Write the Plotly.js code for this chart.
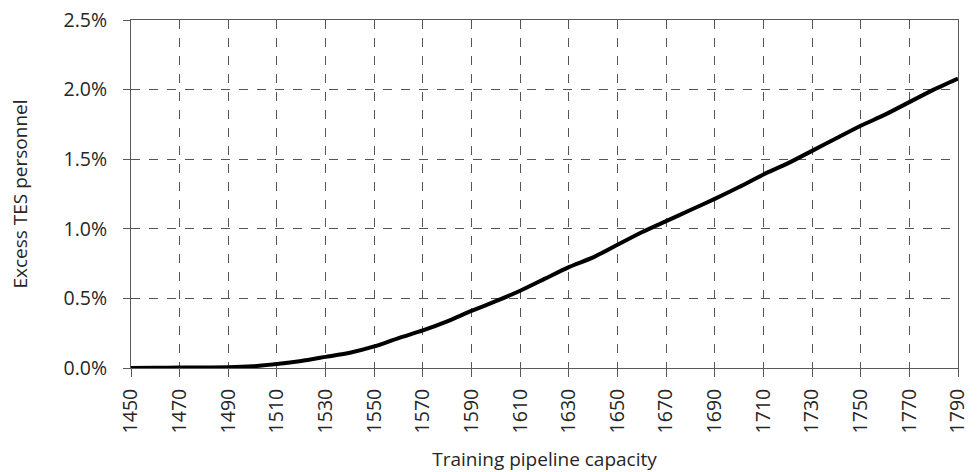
<!DOCTYPE html>
<html>
<head>
<meta charset="utf-8">
<script src="https://cdn.plot.ly/plotly-3.0.1.min.js"></script>
<style>html,body{margin:0;padding:0;background:#fff;}#chart{width:979px;height:472px;}</style>
</head>
<body>
<div id="chart"></div>
<script>
const capacity = [1450,1460,1470,1480,1490,1500,1510,1520,1530,1540,1550,1560,1570,1580,1590,1600,1610,1620,1630,1640,1650,1660,1670,1680,1690,1700,1710,1720,1730,1740,1750,1760,1770,1780,1790];
const excessPct = [0.000,0.002,0.003,0.004,0.005,0.012,0.028,0.050,0.080,0.110,0.155,0.215,0.270,0.335,0.410,0.480,0.555,0.640,0.725,0.795,0.885,0.975,1.055,1.135,1.215,1.300,1.390,1.470,1.560,1.650,1.740,1.820,1.910,2.000,2.080];
const xTicks = [1450,1470,1490,1510,1530,1550,1570,1590,1610,1630,1650,1670,1690,1710,1730,1750,1770,1790];
const yTicks = [0,0.005,0.010,0.015,0.020,0.025];

const excess = excessPct.map(v => v / 100);
const fontFam = '"Open Sans", "Liberation Sans", sans-serif';

Plotly.newPlot('chart', [{
  x: capacity,
  y: excess,
  type: 'scatter',
  mode: 'lines',
  line: {color: '#000000', width: 4, shape: 'spline', smoothing: 0.6},
  hoverinfo: 'skip'
}], {
  width: 979, height: 472,
  margin: {l: 131, r: 21, t: 20, b: 104},
  paper_bgcolor: '#ffffff', plot_bgcolor: '#ffffff',
  showlegend: false,
  font: {family: fontFam, color: '#262626', size: 19},
  xaxis: {
    range: [1450, 1790],
    tickmode: 'array', tickvals: xTicks, ticktext: xTicks.map(String),
    tickangle: -90,
    ticks: 'outside', ticklen: 8, tickcolor: '#595959', tickwidth: 1,
    ticklabelstandoff: 4,
    showline: true, linecolor: '#595959', linewidth: 1, mirror: true,
    showgrid: true, gridcolor: '#555555', griddash: 'dash', gridwidth: 1,
    zeroline: false, automargin: false,
    tickfont: {size: 19.5, family: fontFam, color: '#262626'},
    title: {text: 'Training pipeline capacity', font: {size: 19, family: fontFam, color: '#262626'}, standoff: 22}
  },
  yaxis: {
    range: [0, 0.025],
    tickmode: 'array', tickvals: yTicks,
    tickformat: '.1%',
    ticks: 'outside', ticklen: 7, tickcolor: '#595959', tickwidth: 1,
    ticklabelstandoff: 12,
    showline: true, linecolor: '#595959', linewidth: 1, mirror: true,
    showgrid: true, gridcolor: '#555555', griddash: 'dash', gridwidth: 1,
    zeroline: false, automargin: false,
    tickfont: {size: 19.5, family: fontFam, color: '#262626'},
    title: {text: 'Excess TES personnel', font: {size: 19, family: fontFam, color: '#262626'}, standoff: 30}
  }
}, {staticPlot: true});
</script>
</body>
</html>
